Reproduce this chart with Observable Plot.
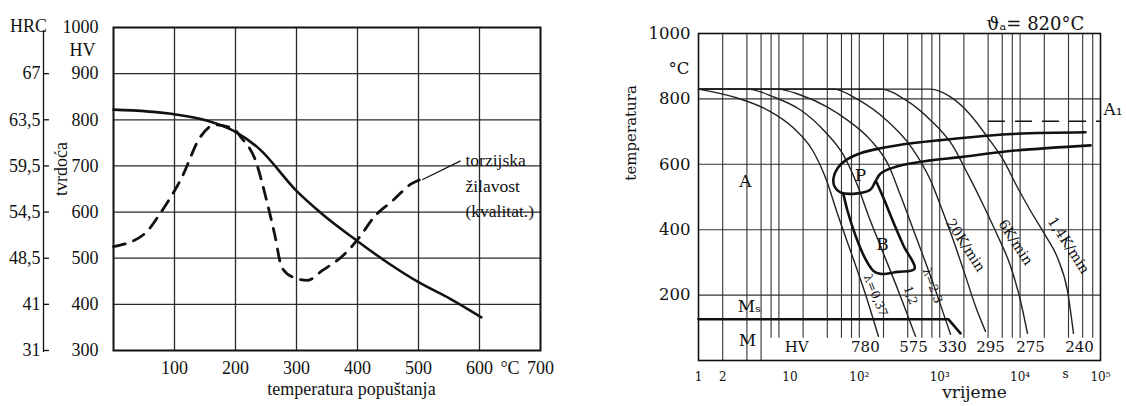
<!DOCTYPE html>
<html><head><meta charset="utf-8">
<script src="https://cdn.jsdelivr.net/npm/d3@7"></script>
<script src="https://cdn.jsdelivr.net/npm/@observablehq/plot@0.6"></script>
<style>
html,body{margin:0;padding:0;background:#fff}
body{width:1126px;height:406px;position:relative;overflow:hidden}
#left{position:absolute;left:0;top:0}
#right{position:absolute;left:580px;top:0}
</style></head><body>
<div id="left"></div><div id="right"></div>
<script>
// ===== LEFT CHART: tvrdoća vs temperatura popuštanja =====
const hvTicks = [300, 400, 500, 600, 700, 800, 900, 1000];
const hvGrid = [400, 500, 600, 700, 800, 900];
const hrcTickHV = [300, 400, 500, 600, 700, 800, 900];
const hrcLabels = ["31", "41", "48,5", "54,5", "59,5", "63,5", "67"];
const tempGridL = [100, 200, 300, 400, 500, 600];
const tempTicks = [100, 200, 300, 400, 500, 600, 650, 700];
const tempTickLabels = ["100", "200", "300", "400", "500", "600", "°C", "700"];
// hardness (solid)
const hardnessT  = [0, 100, 154, 197, 239, 300, 342, 399, 452, 500, 552, 603];
const hardnessHV = [822, 812, 798, 776, 737, 646, 596, 538, 488, 448, 412, 372];
// torsional toughness, qualitative (dashed)
const toughT  = [0, 51, 76, 112, 142, 167, 197, 209, 233, 251, 264, 276, 294, 318, 342, 379, 403, 427, 458, 488, 506];
const toughHV = [525, 553, 596, 675, 762, 789, 780, 762, 711, 625, 553, 480, 459, 452, 473, 509, 545, 589, 625, 661, 672];
const toughLabel = "torzijska\nžilavost\n(kvalitat.)";
const toughLabelPos = [577, 662];
const toughLeader = [[506, 670], [569, 711]];
const xTitleL = "temperatura popuštanja";
const xTitleLPos = 390;

// ===== RIGHT CHART: CCT diagram =====
const tempTicksR = [200, 400, 600, 800, 1000];
const tempGridR = [200, 400, 600, 800];
const timeGridFull = [2, 4, 6];
const timeGridPartial = [8, 10, 20, 40, 60, 80, 100, 200, 400, 600, 800, 1000, 2000, 4000, 6000, 8000,
  10000, 20000, 40000, 60000, 80000];
const gridBottomT = 68;
const timeTicks = [1, 2, 4, 8, 100, 1000, 10000, 100000];
const timeTickLabels = ["1", "2", "4", "8", "10²", "10³", "10⁴", "10⁵"];
// cooling curves [time s, temperature °C]
const lambda037 = [[1,830],[2.72,806],[7.21,766],[15.2,711],[26.2,643],[39.1,551],[52.0,458],[77.8,335],[116,212],[173,74]];
const lambda12  = [[1,830],[4.07,830],[8.57,806],[18.6,766],[38.0,698],[63.6,628],[95.0,535],[130,443],[194,335],[307,212],[500,74]];
const lambda23  = [[1,830],[9.61,830],[18.6,812],[40.2,775],[71.3,735],[138,674],[231,597],[325,505],[500,382],[769,258],[1362,80]];
const rate20    = [[1,830],[47.7,830],[97.7,797],[218,735],[446,652],[769,551],[1023,474],[1485,366],[2094,258],[2788,166],[3715,89]];
const rate6     = [[1,830],[184,830],[376,797],[769,735],[1442,658],[2281,566],[3506,474],[5236,382],[7596,289],[10120,182],[12360,83]];
const rate14    = [[1,830],[769,830],[1362,806],[2415,751],[3936,683],[6223,612],[9290,529],[13470,458],[20700,382],[29200,314],[38900,212],[46100,83]];
// pearlite region (start + nose + finish)
const pearlite = [[65000,698],[6972,692],[1023,674],[472,665],[184,649],[103.5,634],[67.4,612],[53.6,588],[47.7,557],
  [49.2,532],[58.3,514],[95,511],[138,523],[159,548],[184,572],[299,594],[769,612],[1815,622],[6972,640],[75100,658]];
// bainite region
const bainite = [[63.6,508],[71.3,458],[89.7,382],[119,311],[150,274],[184,265],[299,271],[486,280],[355,351],[266,422],[206,489],[164,545]];
// martensite start
const msLine = [[1,126],[1286,126],[1815,83]];
// A1 dashed
const a1Line = [[4046,732],[100000,732]];
// labels
const curveLabels = ["λ=0,37", "1,2", "λ=2,3", "20K/min", "6K/min", "1,4K/min"];
const curveLabelT = [159, 433, 813, 2094, 8770, 40000];
const curveLabelTemp = [199, 199, 229, 352, 361, 352];
const curveLabelRot = [68, 70, 70, 57, 57, 57];
const curveLabelSize = [12, 12, 12, 14, 14, 14];
const regionLabels = ["A", "P", "B", "Mₛ", "M"];
const regionT = [3.84, 103.5, 194, 4.3, 4.07];
const regionTemp = [547, 566, 355, 165, 61];
const hvRowLabels = ["HV", "780", "575", "330", "295", "275", "240"];
const hvRowT = [16.6, 119, 472, 1442, 4285, 13470, 54800];
const hvRowTemp = 40;

const SERIF_L = "'Liberation Serif', 'DejaVu Serif', serif";
const SERIF_R = "'DejaVu Serif', 'Liberation Serif', serif";

// ---------- build left ----------
const hardness = hardnessT.map((t, i) => ({t, hv: hardnessHV[i]}));
const tough = toughT.map((t, i) => ({t, hv: toughHV[i]}));

const left = Plot.plot({
  width: 580, height: 406,
  marginLeft: 113, marginRight: 40, marginTop: 27, marginBottom: 56,
  style: {fontFamily: SERIF_L, fontSize: "17px", color: "#111", background: "transparent"},
  x: {domain: [0, 700], label: null},
  y: {domain: [300, 1000], label: null},
  marks: [
    Plot.ruleX(tempGridL, {stroke: "#2a2a2a", strokeWidth: 1.3}),
    Plot.ruleY(hvGrid, {stroke: "#2a2a2a", strokeWidth: 1.3}),
    Plot.frame({stroke: "#111", strokeWidth: 2}),
    Plot.axisY({ticks: hvTicks, tickSize: 0, tickPadding: 15, label: null, tickFormat: d => String(d), fontSize: 18}),
    Plot.axisY({ticks: hrcTickHV, anchor: "left", tickSize: 0, tickPadding: 0, dx: -73, label: null, fontSize: 18,
      tickFormat: d => hrcLabels[hrcTickHV.indexOf(d)]}),
    Plot.axisY({ticks: hrcTickHV, anchor: "right", tickSize: 5, tickPadding: 0, dx: -497, label: null,
      tickFormat: () => "", strokeWidth: 1.3}),
    Plot.ruleX([0], {dx: -70, insetTop: 3, insetBottom: -2, stroke: "#111", strokeWidth: 1.3}),
    Plot.axisX({ticks: tempTicks, tickSize: 0, tickPadding: 11, label: null, fontSize: 18,
      tickFormat: d => tempTickLabels[tempTicks.indexOf(d)]}),
    Plot.text(["HRC"], {frameAnchor: "top-left", dx: -85, dy: -8, textAnchor: "middle", fontSize: 18}),
    Plot.text([{v: 950, s: "HV"}], {y: "v", text: "s", frameAnchor: "left", dx: -18, textAnchor: "end", fontSize: 18}),
    Plot.text([{v: 635, s: "tvrdoća"}], {y: "v", text: "s", frameAnchor: "left", dx: -52, rotate: -90, fontSize: 18}),
    Plot.text([{x: xTitleLPos, s: xTitleL}], {x: "x", text: "s", frameAnchor: "bottom", dy: 44, fontSize: 18}),
    Plot.line(hardness, {x: "t", y: "hv", curve: "monotone-x", stroke: "#111", strokeWidth: 2.6}),
    Plot.line(tough, {x: "t", y: "hv", curve: "monotone-x", stroke: "#111", strokeWidth: 2.8, strokeDasharray: "12,9"}),
    Plot.link([{x1: toughLeader[0][0], y1: toughLeader[0][1], x2: toughLeader[1][0], y2: toughLeader[1][1]}],
      {x1: "x1", y1: "y1", x2: "x2", y2: "y2", stroke: "#111", strokeWidth: 1.2}),
    Plot.text([{x: toughLabelPos[0], y: toughLabelPos[1], s: toughLabel}],
      {x: "x", y: "y", text: "s", textAnchor: "start", lineAnchor: "middle", lineHeight: 1.45, fontSize: 17.5})
  ]
});
document.getElementById("left").appendChild(left);

// ---------- build right ----------
const toRows = (arr, name) => arr.map(([t, T]) => ({name, t, T}));
const cooling = [
  ...toRows(lambda037, "l037"), ...toRows(lambda12, "l12"), ...toRows(lambda23, "l23"),
  ...toRows(rate20, "r20"), ...toRows(rate6, "r6"), ...toRows(rate14, "r14")
];
const curveLabelRows = curveLabels.map((s, i) => ({s, t: curveLabelT[i], T: curveLabelTemp[i], r: curveLabelRot[i], f: curveLabelSize[i]}));
const regionRows = regionLabels.map((s, i) => ({s, t: regionT[i], T: regionTemp[i]}));
const hvRows = hvRowLabels.map((s, i) => ({s, t: hvRowT[i], T: hvRowTemp}));

const right = Plot.plot({
  width: 546, height: 406,
  marginLeft: 118, marginRight: 26, marginTop: 33, marginBottom: 46,
  style: {fontFamily: SERIF_R, fontSize: "16px", color: "#111", background: "transparent"},
  x: {type: "log", domain: [1, 100000], label: null},
  y: {domain: [0, 1000], label: null},
  marks: [
    Plot.ruleX(timeGridFull, {stroke: "#333", strokeWidth: 1.1}),
    Plot.ruleX(timeGridPartial, {y1: gridBottomT, y2: 1000, stroke: "#333", strokeWidth: 1.1}),
    Plot.ruleY(tempGridR, {stroke: "#333", strokeWidth: 1.1}),
    Plot.frame({stroke: "#111", strokeWidth: 1.6}),
    Plot.axisY({ticks: tempTicksR, tickSize: 0, tickPadding: 8, label: null, fontSize: 16.5, tickFormat: d => String(d)}),
    Plot.axisX({ticks: timeTicks, tickSize: 0, tickPadding: 12, label: null, fontSize: 12,
      tickFormat: d => timeTickLabels[timeTicks.indexOf(d)]}),
    Plot.axisX({ticks: [10], tickSize: 0, tickPadding: 12, label: null, fontSize: 12, dx: 11, tickFormat: () => "10"}),
    Plot.text([{t: 36700, s: "s"}], {x: "t", text: "s", frameAnchor: "bottom", dy: 17, fontSize: 12}),
    Plot.text([{t: 2710, s: "vrijeme"}], {x: "t", text: "s", frameAnchor: "bottom", dy: 37, fontSize: 17}),
    Plot.text([{T: 550, s: "temperatura"}], {y: "T", text: "s", frameAnchor: "left", dx: -67, rotate: -90, fontSize: 15}),
    Plot.text([{T: 893, s: "°C"}], {y: "T", text: "s", frameAnchor: "left", dx: -30, fontSize: 16.5}),
    Plot.text([{t: 15500, s: "ϑₐ= 820°C"}], {x: "t", text: "s", frameAnchor: "top", dy: -16, fontSize: 18}),
    Plot.text([{t: 100000, T: 768, s: "A₁"}], {x: "t", y: "T", text: "s", dx: 3, textAnchor: "start", fontSize: 17}),
    Plot.line(toRows(a1Line, "a1"), {x: "t", y: "T", stroke: "#111", strokeWidth: 1.5, strokeDasharray: "16,11"}),
    Plot.line(cooling, {x: "t", y: "T", z: "name", curve: "monotone-x", stroke: "#222", strokeWidth: 1.4}),
    Plot.line(toRows(pearlite, "p"), {x: "t", y: "T", curve: "catmull-rom", stroke: "#111", strokeWidth: 2.6}),
    Plot.line(toRows(bainite, "b"), {x: "t", y: "T", curve: "catmull-rom", stroke: "#111", strokeWidth: 2.6}),
    Plot.line(toRows(msLine, "ms"), {x: "t", y: "T", stroke: "#111", strokeWidth: 2.6}),
    Plot.text(curveLabelRows, {x: "t", y: "T", text: "s", rotate: "r", fontSize: "f", fill: "#111"}),
    Plot.text(regionRows, {x: "t", y: "T", text: "s", fontSize: 17}),
    Plot.text(hvRows, {x: "t", y: "T", text: "s", fontSize: 15})
  ]
});
document.getElementById("right").appendChild(right);
</script>
</body></html>
